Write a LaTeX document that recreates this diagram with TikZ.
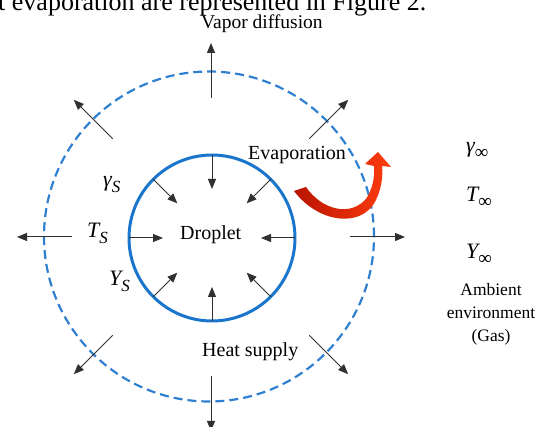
\documentclass[tikz,border=0pt]{standalone}
\usepackage{fontspec}
\setmainfont{Liberation Serif}
\usetikzlibrary{arrows.meta,calc}
\definecolor{cblue}{HTML}{1A75CC}
\definecolor{dblue}{HTML}{2F80D0}
\definecolor{arrgray}{HTML}{303030}
\definecolor{redA}{HTML}{B81400}
\definecolor{redB}{HTML}{FF3C10}
\tikzset{
  radarrow/.style={draw=arrgray, line width=1pt, -{Triangle[length=10pt,width=8pt]}},
  lbl/.style={inner sep=0pt, anchor=base west, font=\fontsize{20}{24}\selectfont},
  amb/.style={inner sep=0pt, align=center, font=\fontsize{17.5}{23}\selectfont},
}
\newcommand\symlab[3]{{\fontsize{22}{24}\selectfont\itshape #1}\raisebox{-0.3em}{\fontsize{#3}{#3}\selectfont #2}}
\begin{document}
\begin{tikzpicture}[x=1pt,y=-1pt]
\path[use as bounding box, clip] (0,0) rectangle (539,427);
% cropped caption line of the page
\node[inner sep=0pt, anchor=base west, font=\fontsize{26}{30}\selectfont] (cap) at (-2,11) {t evaporation are represented in Figure 2.};
% centres
\coordinate (ci) at (212,238);
\coordinate (co) at (211,237);
% circles
\node[circle, draw=dblue, line width=2.2pt, dash pattern=on 9pt off 5pt, minimum size=330pt, inner sep=0pt] (zone) at (209,236.5) {};
\node[circle, draw=cblue, line width=3pt, minimum size=166pt, inner sep=0pt] (drop) at (ci) {};
% inward arrows
\foreach \a in {0,45,...,315}{
  \coordinate (is\a) at ($(ci)+(\a:83)$);
  \coordinate (ie\a) at ($(ci)+(\a:49)$);
  \draw[radarrow] (is\a) -- (ie\a);
}
% outward arrows
\foreach \a in {0,45,...,315}{
  \coordinate (os\a) at ($(co)+(\a:139)$);
  \coordinate (oe\a) at ($(co)+(\a:194)$);
  \draw[radarrow] (os\a) -- (oe\a);
}
% labels
\node[lbl, font=\fontsize{19.5}{24}\selectfont] (vap) at (201,29) {Vapor diffusion};
\node[lbl] (dl) at (180,240) {Droplet};
\node[lbl] (ev) at (248,160) {Evaporation};
\node[lbl] (hs) at (202,357) {Heat supply};
\node[lbl] (gs) at (103,187) {\symlab{γ}{\itshape S}{17}};
\node[lbl] (ts) at (87,238) {\symlab{T}{\itshape S}{17}};
\node[lbl] (ys) at (109,286) {\symlab{Y}{\itshape S}{17}};
\node[lbl] (ginf) at (466,153) {\symlab{γ}{∞}{19}};
\node[lbl] (tinf) at (466,202) {\symlab{T}{∞}{19}};
\node[lbl] (yinf) at (466,259) {\symlab{Y}{∞}{19}};
\node[amb, anchor=base] (ambient) at (491,342) {Ambient\\environment\\(Gas)};
% red curved arrow
\shade[left color=redA, right color=redB]
  (294,191) .. controls (318,223) and (362,229) .. (376,200)
  .. controls (382,187) and (383,175) .. (382,166)
  -- (391,167) -- (378,152) -- (365,164) -- (374,166)
  .. controls (375,178) and (372,190) .. (366,199)
  .. controls (350,217) and (322,210) .. (306,187) -- cycle;
\end{tikzpicture}
\end{document}
